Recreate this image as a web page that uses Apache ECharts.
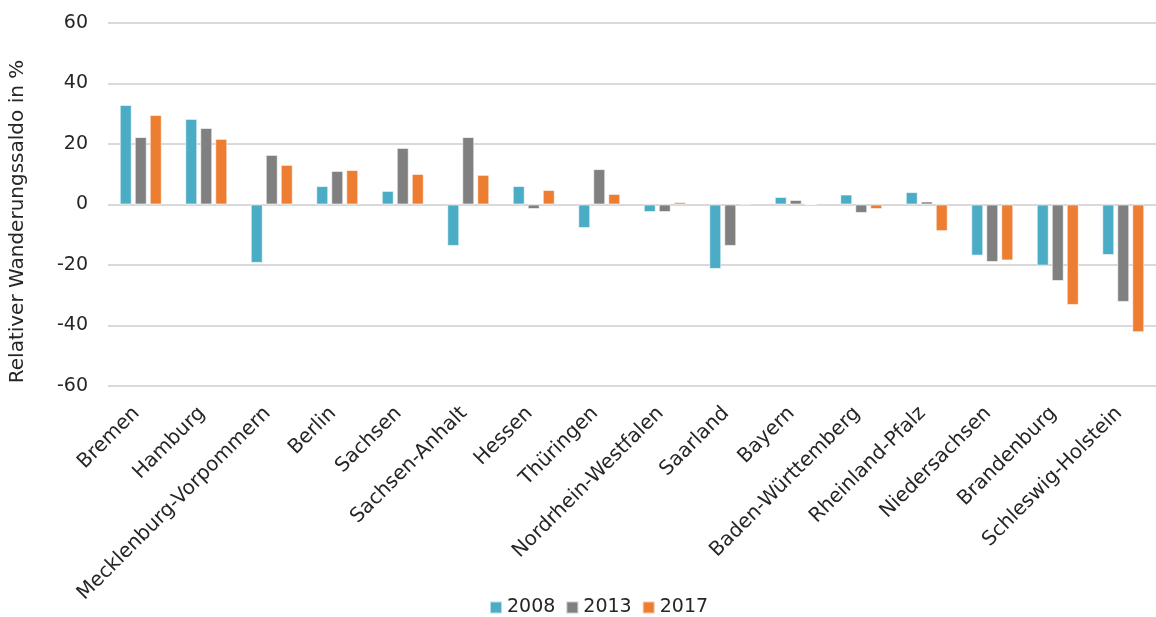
<!DOCTYPE html>
<html>
<head>
<meta charset="utf-8">
<script src="https://cdn.jsdelivr.net/npm/echarts@6/dist/echarts.min.js"></script>
<style>
    html, body { margin: 0; padding: 0; background: #fff; }
    #J_chart { width: 1156px; height: 617px; }
</style>
</head>
<body>
<div id="J_chart"></div>
<script>
// Bundesländer
var laender = ['Bremen', 'Hamburg', 'Mecklenburg-Vorpommern', 'Berlin', 'Sachsen', 'Sachsen-Anhalt',
    'Hessen', 'Thüringen', 'Nordrhein-Westfalen', 'Saarland', 'Bayern', 'Baden-Württemberg',
    'Rheinland-Pfalz', 'Niedersachsen', 'Brandenburg', 'Schleswig-Holstein'];

// Relativer Wanderungssaldo in %
var werte2008 = [32.9, 28.3, -19.3, 6.1, 4.5, -13.7, 6.1, -7.8, -2.5, -21.3, 2.5, 3.3, 4.1, -16.9, -20.2, -16.7];
var werte2013 = [22.3, 25.3, 16.4, 11.1, 18.7, 22.3, -1.5, 11.7, -2.5, -13.7, 1.5, -2.8, 1.0, -19.0, -25.3, -32.2];
var werte2017 = [29.6, 21.7, 13.1, 11.4, 10.1, 9.8, 4.8, 3.5, 0.8, 0.3, 0, -1.5, -8.8, -18.5, -33.2, -42.2];

var jahre = ['2008', '2013', '2017'];
var farben = ['#4BACC6', '#808080', '#ED7D31'];

var schrift = '"DejaVu Sans", sans-serif';

var myChart = echarts.init(document.getElementById('J_chart'));

function reihe(idx, daten) {
    return {
        name: jahre[idx],
        type: 'bar',
        data: daten,
        barWidth: 12,
        barGap: '25%',
        itemStyle: {
            color: farben[idx],
            borderColor: 'rgba(255,255,255,0.6)',
            borderWidth: 1
        }
    };
}

var option = {
    animation: false,
    color: farben,
    textStyle: { fontFamily: schrift },
    grid: {
        left: 108,
        right: 0,
        top: 23,
        bottom: 231
    },
    legend: {
        top: 598,
        left: 489,
        padding: 0,
        itemWidth: 12,
        itemHeight: 12,
        itemGap: 10,
        icon: 'rect',
        textStyle: { fontSize: 19, color: '#262626', fontFamily: schrift },
        data: jahre
    },
    xAxis: {
        type: 'category',
        data: laender,
        axisLine: { show: false, onZero: false },
        axisTick: { show: false },
        axisLabel: {
            interval: 0,
            rotate: 45,
            margin: 20,
            padding: [0, 6, 0, 0],
            fontSize: 20,
            color: '#262626',
            fontFamily: schrift
        }
    },
    yAxis: {
        type: 'value',
        min: -60,
        max: 60,
        interval: 20,
        name: 'Relativer Wanderungssaldo in %',
        nameLocation: 'middle',
        nameGap: 80,
        nameRotate: 90,
        nameTextStyle: {
            fontSize: 20,
            color: '#262626',
            fontFamily: schrift,
            padding: [0, 34, 0, 0]
        },
        axisLine: { show: false },
        axisTick: { show: false },
        axisLabel: {
            margin: 20,
            fontSize: 19,
            color: '#262626',
            fontFamily: schrift
        },
        splitLine: { lineStyle: { color: '#d9d9d9', width: 2 } }
    },
    series: [
        reihe(0, werte2008),
        reihe(1, werte2013),
        reihe(2, werte2017)
    ]
};

myChart.setOption(option, true);
</script>
</body>
</html>
